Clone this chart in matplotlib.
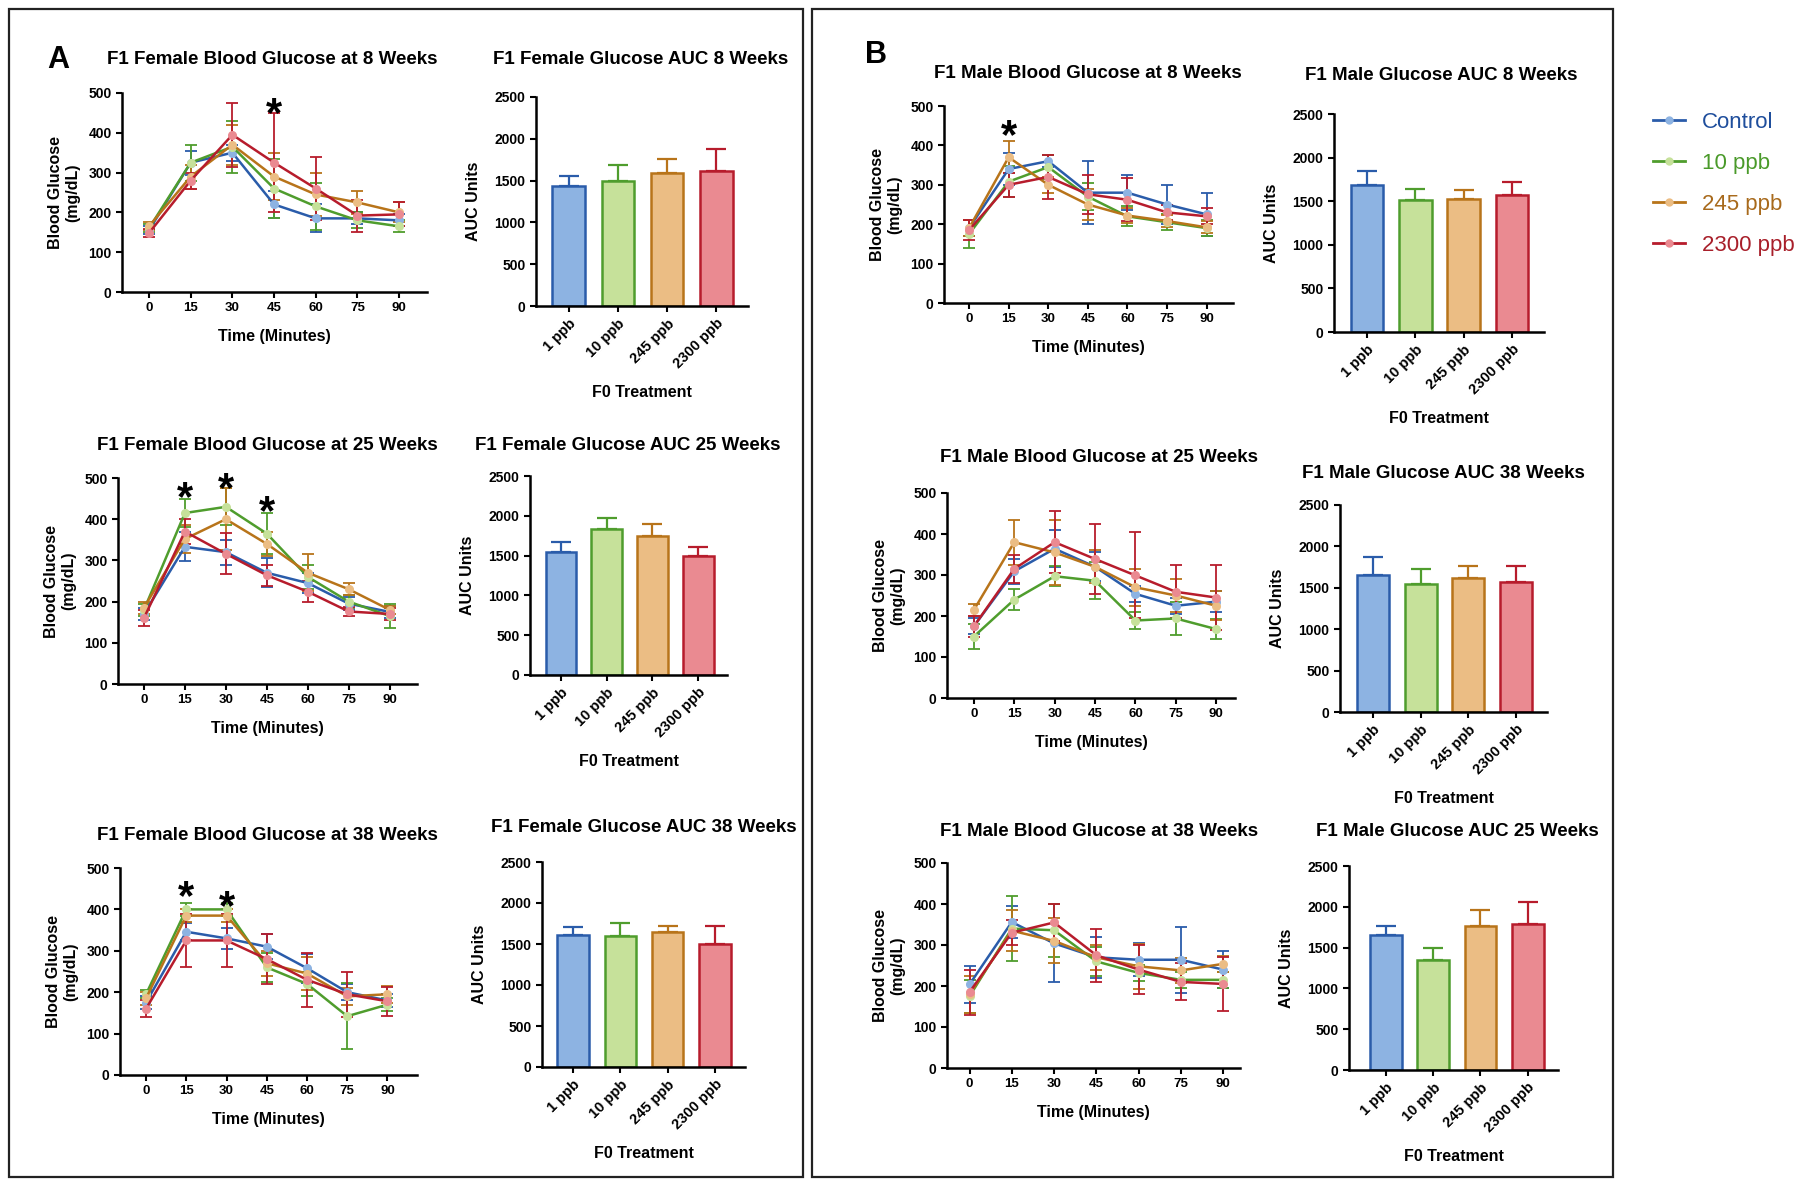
import matplotlib
matplotlib.use('Agg')
from matplotlib import pyplot as plt
from matplotlib.lines import Line2D
from matplotlib.patches import Rectangle
from matplotlib.transforms import offset_copy

plt.rcParams['font.family'] = ['Liberation Sans', 'DejaVu Sans']
plt.rcParams['font.weight'] = 'bold'
plt.rcParams['axes.labelweight'] = 'bold'

# ---- data ----
groups = ['Control', '10 ppb', '245 ppb', '2300 ppb']
bar_labels = ['1 ppb', '10 ppb', '245 ppb', '2300 ppb']
time = [0, 15, 30, 45, 60, 75, 90]

# rows: Control, 10 ppb, 245 ppb, 2300 ppb
female_8wk = [[155, 325, 350, 220, 185, 185, 180],
              [160, 325, 365, 260, 215, 180, 165],
              [165, 290, 370, 290, 245, 225, 200],
              [148, 280, 395, 325, 260, 192, 195]]
female_8wk_sem = [[10, 30, 20, 35, 35, 15, 15],
                  [10, 45, 65, 75, 60, 20, 15],
                  [10, 30, 50, 60, 55, 30, 25],
                  [10, 20, 80, 125, 80, 40, 30]]
female_25wk = [[170, 333, 320, 270, 245, 195, 175],
               [180, 415, 430, 365, 260, 200, 165],
               [185, 352, 400, 340, 270, 230, 180],
               [160, 370, 316, 264, 224, 176, 170]]
female_25wk_sem = [[15, 35, 30, 35, 25, 15, 15],
                   [15, 35, 45, 50, 30, 15, 30],
                   [15, 35, 75, 30, 45, 15, 10],
                   [20, 30, 50, 25, 25, 10, 15]]
female_38wk = [[175, 346, 330, 310, 258, 200, 180],
               [195, 400, 400, 260, 220, 142, 170],
               [185, 385, 385, 270, 245, 190, 195],
               [160, 325, 325, 280, 230, 195, 178]]
female_38wk_sem = [[15, 20, 25, 30, 35, 20, 15],
                   [10, 15, 15, 35, 30, 80, 15],
                   [15, 15, 15, 30, 40, 20, 20],
                   [20, 65, 65, 60, 65, 55, 35]]
male_8wk = [[190, 340, 360, 280, 280, 250, 225],
            [175, 308, 345, 270, 220, 205, 190],
            [190, 370, 300, 250, 222, 208, 192],
            [185, 300, 320, 276, 262, 230, 220]]
male_8wk_sem = [[20, 40, 15, 80, 45, 50, 55],
                [35, 40, 30, 35, 25, 20, 20],
                [20, 40, 20, 40, 20, 15, 15],
                [25, 30, 55, 50, 55, 20, 20]]
male_25wk = [[175, 309, 364, 320, 254, 225, 235],
             [150, 240, 297, 286, 189, 194, 168],
             [215, 380, 355, 320, 270, 250, 225],
             [175, 315, 380, 339, 299, 259, 245]]
male_25wk_sem = [[20, 30, 45, 35, 20, 20, 25],
                 [30, 25, 25, 45, 20, 40, 25],
                 [15, 55, 80, 40, 45, 40, 35],
                 [25, 35, 75, 85, 105, 65, 80]]
male_38wk = [[204, 356, 304, 270, 264, 264, 240],
             [175, 340, 336, 260, 232, 215, 215],
             [180, 335, 310, 270, 248, 238, 254],
             [185, 330, 355, 275, 240, 210, 205]]
male_38wk_sem = [[45, 40, 95, 50, 40, 80, 45],
                 [40, 80, 65, 35, 20, 20, 20],
                 [45, 50, 55, 30, 55, 30, 20],
                 [55, 30, 45, 65, 60, 45, 65]]

# significance stars: (time, height)
female_8wk_stars = [(45, 475)]
female_25wk_stars = [(15, 478), (30, 502), (45, 446)]
female_38wk_stars = [(15, 458), (30, 434)]
male_8wk_stars = [(15, 452)]

female_auc_8wk = [1435, 1495, 1595, 1611]
female_auc_8wk_sem = [116, 195, 167, 271]
female_auc_25wk = [1549, 1830, 1746, 1495]
female_auc_25wk_sem = [118, 147, 151, 113]
female_auc_38wk = [1612, 1600, 1645, 1506]
female_auc_38wk_sem = [90, 155, 73, 216]
male_auc_8wk = [1682, 1513, 1520, 1572]
male_auc_8wk_sem = [166, 126, 103, 150]
male_auc_38wk = [1653, 1544, 1613, 1573]
male_auc_38wk_sem = [222, 178, 153, 193]
male_auc_25wk = [1660, 1354, 1770, 1794]
male_auc_25wk_sem = [106, 147, 196, 261]

line_c = ['#2a5caa', '#4f9d2d', '#b8741a', '#b71c2c']
fill_c = ['#8db3e2', '#c6e19a', '#ebbd84', '#ea8a91']
text_c = ['#1f4e9c', '#4a9a2a', '#a86a1c', '#a81f2a']

W, H = 1800, 1186
fig = plt.figure(figsize=(W / 100, H / 100), dpi=100)


def add_ax(l, t, r, b):
    return fig.add_axes([l / W, 1 - b / H, (r - l) / W, (b - t) / H])


def style(ax):
    for s in ['top', 'right']:
        ax.spines[s].set_visible(False)
    for s in ['left', 'bottom']:
        ax.spines[s].set_linewidth(1.8)
    ax.tick_params(direction='out', length=4, width=1.5)
    ax.tick_params(axis='y', labelsize=10)
    ax.tick_params(axis='x', labelsize=9.5)


def line_panel(box, xlim, title, tpos, means, sems, stars):
    ax = add_ax(*box)
    style(ax)
    for i in range(4):
        ax.errorbar(time, means[i], yerr=sems[i], color=line_c[i], lw=1.8,
                    marker='o', ms=5.5, mfc=fill_c[i], mec=fill_c[i],
                    ecolor=line_c[i], elinewidth=1.3, capsize=4, capthick=1.3,
                    clip_on=False)
    star_tr = offset_copy(ax.transData, fig=fig, y=-9, units='points')
    for t, h in stars:
        ax.text(t, h, '*', ha='center', va='center', fontsize=30,
                transform=star_tr)
    ax.set_xlim(*xlim)
    ax.set_ylim(0, 500)
    ax.set_xticks(time)
    ax.set_yticks(range(0, 501, 100))
    ax.set_xlabel('Time (Minutes)', fontsize=11.5)
    ax.set_ylabel('Blood Glucose\n(mg/dL)', fontsize=11.5)
    hpx = box[3] - box[1]
    wpx = box[2] - box[0]
    ax.xaxis.set_label_coords(0.5, -37 / hpx)
    ax.yaxis.set_label_coords(-42 / wpx, 0.5)
    fig.text(tpos[0] / W, 1 - tpos[1] / H, title, ha='center', va='center',
             fontsize=13.5)
    return ax


def bar_panel(box, xlim, title, tpos, vals, sems):
    ax = add_ax(*box)
    style(ax)
    x = list(range(4))
    for i in x:
        ax.errorbar(i, vals[i], yerr=[[0], [sems[i]]], fmt='none',
                    ecolor=line_c[i], elinewidth=1.6, capsize=7,
                    capthick=1.6, zorder=1)
    ax.bar(x, vals, width=0.67, color=fill_c, edgecolor=line_c,
           linewidth=1.8, zorder=2)
    ax.set_xlim(*xlim)
    ax.set_ylim(0, 2500)
    ax.set_yticks(range(0, 2501, 500))
    ax.set_xticks(x)
    ax.set_xticklabels(bar_labels, rotation=45, ha='right',
                       rotation_mode='anchor', fontsize=10.5)
    ax.set_xlabel('F0 Treatment', fontsize=11.5)
    ax.set_ylabel('AUC Units', fontsize=11.5)
    hpx = box[3] - box[1]
    wpx = box[2] - box[0]
    ax.xaxis.set_label_coords(0.5, -79 / hpx)
    ax.yaxis.set_label_coords(-55 / wpx, 0.5)
    fig.text(tpos[0] / W, 1 - tpos[1] / H, title, ha='center', va='center',
             fontsize=13.5)
    return ax


# ---- panel A: females ----
line_panel((122, 93, 427, 292), (-9.7, 100), 'F1 Female Blood Glucose at 8 Weeks',
           (272, 60), female_8wk, female_8wk_sem, female_8wk_stars)
bar_panel((536, 97, 748, 306), (-0.67, 3.65), 'F1 Female Glucose AUC 8 Weeks',
          (641, 60), female_auc_8wk, female_auc_8wk_sem)
line_panel((118, 478, 417, 684), (-9.5, 100), 'F1 Female Blood Glucose at 25 Weeks',
           (267, 445), female_25wk, female_25wk_sem, female_25wk_stars)
bar_panel((530, 476, 727, 675), (-0.68, 3.63), 'F1 Female Glucose AUC 25 Weeks',
          (628, 445), female_auc_25wk, female_auc_25wk_sem)
line_panel((120, 868, 417, 1075), (-9.7, 101), 'F1 Female Blood Glucose at 38 Weeks',
           (267, 835), female_38wk, female_38wk_sem, female_38wk_stars)
bar_panel((542, 862, 745, 1067), (-0.66, 3.64), 'F1 Female Glucose AUC 38 Weeks',
          (644, 827), female_auc_38wk, female_auc_38wk_sem)

# ---- panel B: males ----
line_panel((944, 106, 1233, 303), (-9.5, 100), 'F1 Male Blood Glucose at 8 Weeks',
           (1088, 73), male_8wk, male_8wk_sem, male_8wk_stars)
bar_panel((1334, 114, 1544, 332), (-0.68, 3.66), 'F1 Male Glucose AUC 8 Weeks',
          (1441, 76), male_auc_8wk, male_auc_8wk_sem)
line_panel((947, 493, 1235, 698), (-10, 97), 'F1 Male Blood Glucose at 25 Weeks',
           (1099, 458), male_25wk, male_25wk_sem, [])
bar_panel((1340, 505, 1547, 712), (-0.69, 3.65), 'F1 Male Glucose AUC 38 Weeks',
          (1443, 473), male_auc_38wk, male_auc_38wk_sem)
line_panel((947, 863, 1240, 1068), (-8, 96), 'F1 Male Blood Glucose at 38 Weeks',
           (1099, 832), male_38wk, male_38wk_sem, [])
bar_panel((1349, 866, 1558, 1070), (-0.78, 3.64), 'F1 Male Glucose AUC 25 Weeks',
          (1457, 832), male_auc_25wk, male_auc_25wk_sem)

# panel letters
fig.text(47 / W, 1 - 60 / H, 'A', fontsize=22, ha='left', va='center')
fig.text(865 / W, 1 - 55 / H, 'B', fontsize=22, ha='left', va='center')

# boxes around the panels
for l, r in [(9, 803), (812, 1613)]:
    fig.add_artist(Rectangle((l / W, 1 - 1177 / H), (r - l) / W, 1168 / H,
                             transform=fig.transFigure, fill=False,
                             edgecolor='#222222', linewidth=1.6))

# legend
handles = [Line2D([], [], color=line_c[i], lw=2, marker='o', ms=5,
                  mfc=fill_c[i], mec=fill_c[i]) for i in range(4)]
fig.legend(handles, groups, loc='upper left',
           bbox_to_anchor=(1644 / W, 1 - 103 / H), frameon=False,
           prop={'size': 16, 'weight': 'normal'}, labelcolor=text_c,
           handlelength=1.45, handletextpad=0.75, labelspacing=0.9,
           borderpad=0.4, borderaxespad=0)

plt.savefig('out.png', dpi=100)
